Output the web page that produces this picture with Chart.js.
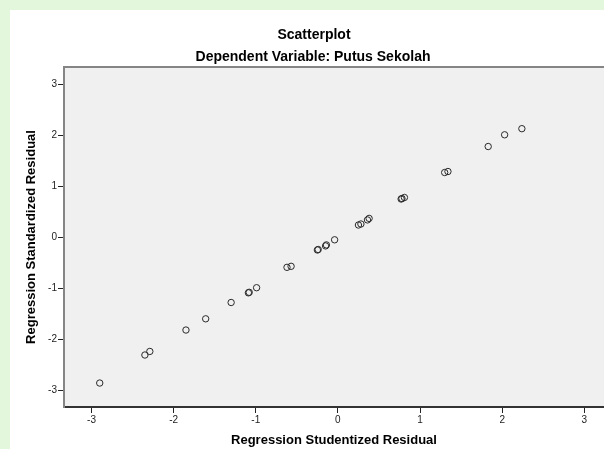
<!DOCTYPE html>
<html>
<head>
<meta charset="utf-8">
<script src="https://cdn.jsdelivr.net/npm/chart.js@4"></script>
<style>
  html, body { margin: 0; padding: 0; background: #e3f7dd; }
  #wrap { width: 604px; height: 449px; position: relative; }
</style>
</head>
<body>
<div id="wrap"><canvas id="chart" width="604" height="449"></canvas></div>
<script>
// residuals
var studentized = [-2.90, -2.35, -2.29, -1.85, -1.61, -1.30, -1.09, -1.08, -0.99,
    -0.62, -0.57, -0.25, -0.24, -0.15, -0.14, -0.04, 0.25, 0.28, 0.36, 0.38,
    0.77, 0.78, 0.81, 1.30, 1.34, 1.83, 2.03, 2.24];
var standardized = [-2.86, -2.31, -2.24, -1.82, -1.60, -1.28, -1.09, -1.08, -0.99,
    -0.59, -0.57, -0.25, -0.24, -0.17, -0.15, -0.05, 0.24, 0.26, 0.34, 0.37,
    0.75, 0.76, 0.78, 1.27, 1.29, 1.78, 2.01, 2.13];
var titleText = "Scatterplot";
var subtitleText = "Dependent Variable: Putus Sekolah";

var points = [];
for (var i = 0; i < studentized.length; i++) {
    points.push({x: studentized[i], y: standardized[i]});
}

// white page, grey plot box and the two header lines
var frame = {
    id: 'frame',
    beforeDraw: function(chart) {
        var ctx = chart.ctx;
        var a = chart.chartArea;
        ctx.save();
        ctx.fillStyle = '#ffffff';
        ctx.fillRect(10, 10, chart.width - 10, chart.height - 10);
        ctx.fillStyle = '#f0f0f0';
        ctx.fillRect(a.left, a.top, a.right - a.left, a.bottom - a.top);
        ctx.restore();
    },
    afterDraw: function(chart) {
        var ctx = chart.ctx;
        var a = chart.chartArea;
        ctx.save();
        ctx.strokeStyle = '#858585';
        ctx.lineWidth = 2;
        ctx.beginPath();
        ctx.moveTo(a.left - 1, a.top);
        ctx.lineTo(a.right, a.top);
        ctx.stroke();
        ctx.fillStyle = '#000000';
        ctx.textAlign = 'center';
        ctx.textBaseline = 'middle';
        ctx.font = 'bold 14px "Liberation Sans", Arial, sans-serif';
        ctx.fillText(titleText, 314, 35);
        ctx.fillText(subtitleText, 313, 57);
        ctx.restore();
    }
};

var config = {
    type: 'scatter',
    data: {
        datasets: [{
            data: points,
            pointRadius: 3.2,
            pointHoverRadius: 3.2,
            pointBorderWidth: 1,
            pointBorderColor: '#2a2a2a',
            pointBackgroundColor: 'rgba(0,0,0,0)'
        }]
    },
    options: {
        responsive: false,
        animation: false,
        layout: { autoPadding: false, padding: { top: 67, left: 0, right: 0, bottom: 0 } },
        plugins: {
            legend: { display: false },
            title: { display: false },
            tooltip: { enabled: false }
        },
        scales: {
            x: {
                type: 'linear',
                min: -3.335,
                max: 3.24,
                afterFit: function(scale) {
                    scale.height = 42;
                    scale.paddingLeft = 0;
                    scale.paddingRight = 0;
                },
                ticks: {
                    stepSize: 1,
                    includeBounds: false,
                    color: '#222',
                    padding: 1,
                    maxRotation: 0,
                    font: { family: '"Liberation Sans", Arial, sans-serif', size: 10 }
                },
                grid: {
                    drawOnChartArea: false,
                    drawTicks: true,
                    tickLength: 6,
                    tickColor: '#222',
                    tickWidth: 1
                },
                border: { color: '#333333', width: 2 },
                title: {
                    display: true,
                    text: 'Regression Studentized Residual',
                    color: '#000',
                    padding: { top: 0, bottom: 1 },
                    font: { family: '"Liberation Sans", Arial, sans-serif', size: 13, weight: 'bold' }
                }
            },
            y: {
                type: 'linear',
                min: -3.33,
                max: 3.34,
                afterFit: function(scale) {
                    scale.width = 64;
                    scale.paddingTop = 0;
                    scale.paddingBottom = 0;
                },
                ticks: {
                    stepSize: 1,
                    includeBounds: false,
                    color: '#222',
                    padding: 1,
                    font: { family: '"Liberation Sans", Arial, sans-serif', size: 10 }
                },
                grid: {
                    drawOnChartArea: false,
                    drawTicks: true,
                    tickLength: 6,
                    tickColor: '#222',
                    tickWidth: 1
                },
                border: { color: '#858585', width: 2 },
                title: {
                    display: true,
                    text: 'Regression Standardized Residual',
                    color: '#000',
                    padding: { top: 24, bottom: 0 },
                    font: { family: '"Liberation Sans", Arial, sans-serif', size: 13, weight: 'bold' }
                }
            }
        }
    },
    plugins: [frame]
};

var ctx = document.getElementById('chart');
window.myChart = new Chart(ctx, config);
</script>
</body>
</html>
